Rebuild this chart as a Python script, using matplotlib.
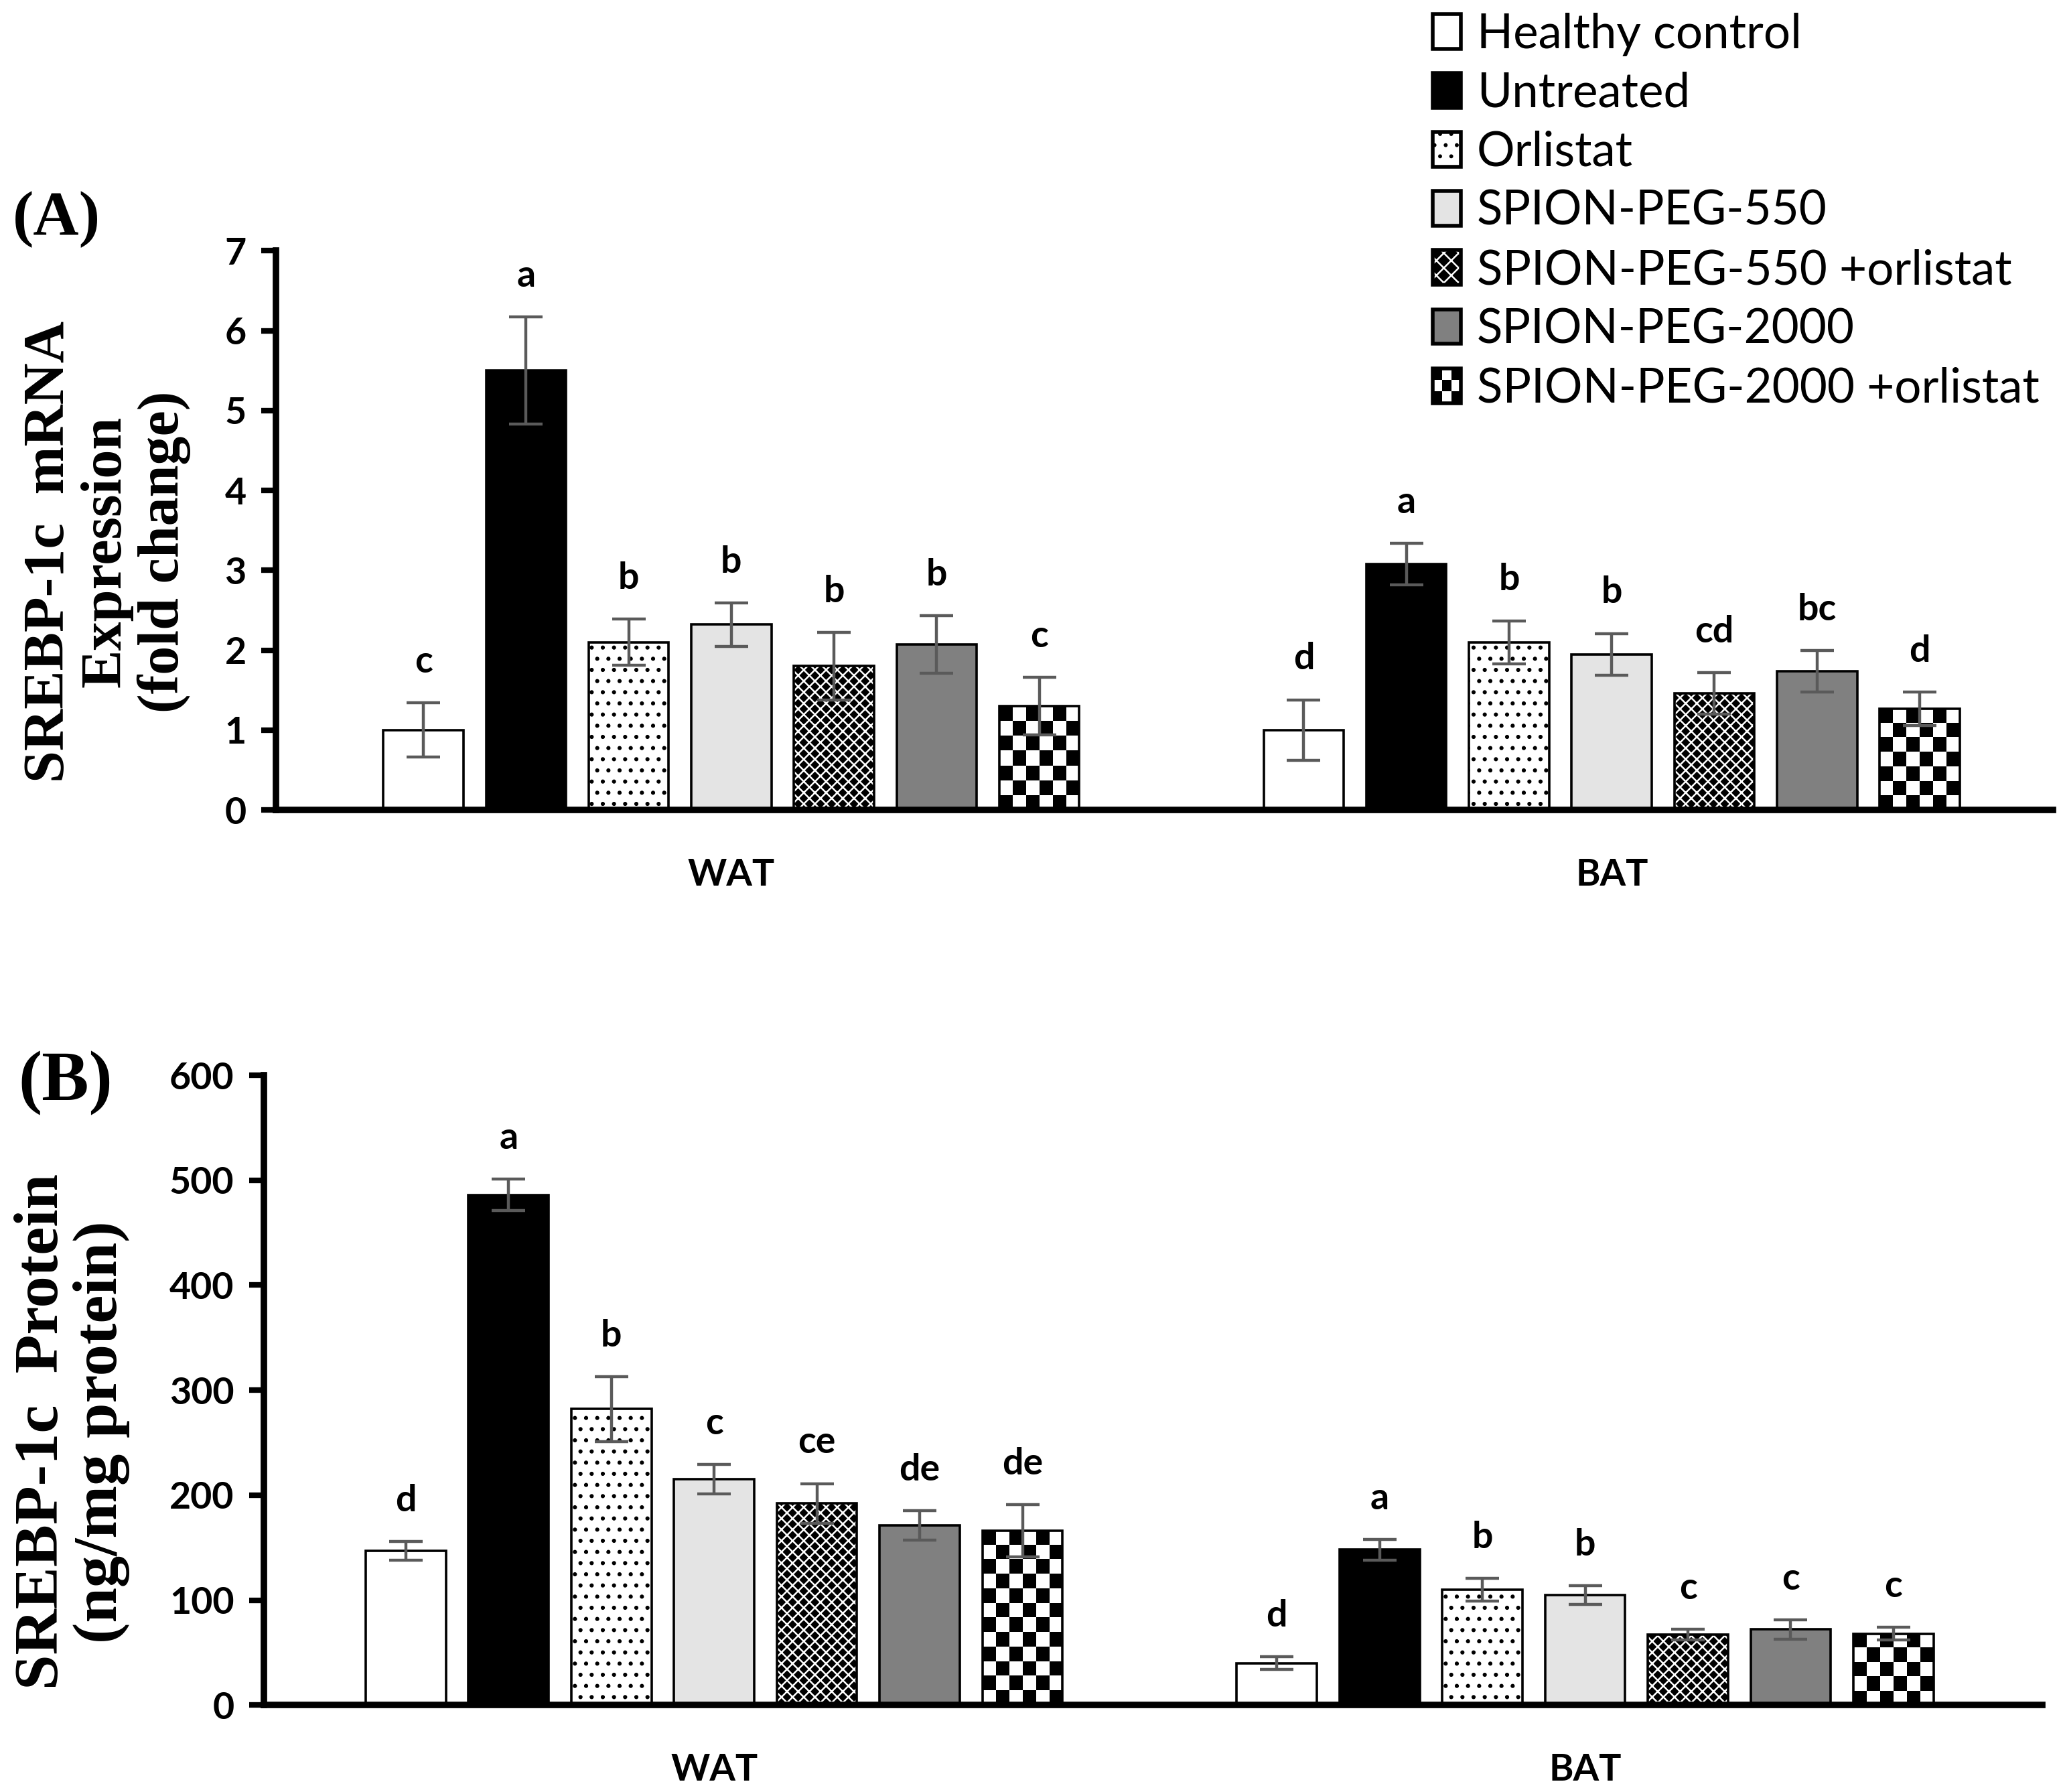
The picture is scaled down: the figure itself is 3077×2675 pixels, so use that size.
import numpy as np
import matplotlib
matplotlib.use("Agg")
import matplotlib.pyplot as plt
from matplotlib.patches import Rectangle, Patch
from matplotlib.legend_handler import HandlerBase

# data
groups = ["WAT", "BAT"]
treatments = ["Healthy control", "Untreated", "Orlistat", "SPION-PEG-550",
              "SPION-PEG-550 +orlistat", "SPION-PEG-2000", "SPION-PEG-2000 +orlistat"]

mrna_wat = [1.00, 5.50, 2.10, 2.32, 1.80, 2.07, 1.30]
mrna_wat_err = [0.34, 0.67, 0.29, 0.27, 0.42, 0.36, 0.36]
mrna_wat_sig = ["c", "a", "b", "b", "b", "b", "c"]
mrna_bat = [1.00, 3.08, 2.10, 1.95, 1.46, 1.74, 1.27]
mrna_bat_err = [0.38, 0.26, 0.27, 0.26, 0.26, 0.26, 0.21]
mrna_bat_sig = ["d", "a", "b", "b", "cd", "bc", "d"]

prot_wat = [147, 486, 282, 215, 192, 171, 166]
prot_wat_err = [9, 15, 31, 14, 19, 14, 25]
prot_wat_sig = ["d", "a", "b", "c", "ce", "de", "de"]
prot_bat = [40, 148, 110, 105, 67, 72, 68]
prot_bat_err = [6, 10, 11, 9, 5, 9, 6]
prot_bat_sig = ["d", "a", "b", "b", "c", "c", "c"]

# styling per treatment
face = ["white", "black", "white", "#e4e4e4", "black", "#808080", "white"]
hatch = [None, None, "..", None, "xxxx", None, "checker"]

W, H, DPI = 3077, 2675, 200
fig = plt.figure(figsize=(W / DPI, H / DPI), dpi=DPI)

sans = ["Lato", "DejaVu Sans"]
serif = ["Liberation Serif", "DejaVu Serif"]

CELL = 21  # checker square, pixels


def add_checker(ax, bar, z):
    ext = bar.get_window_extent()
    nc = max(1, int(round(ext.width / CELL)))
    nr = max(1, int(round(ext.height / CELL)))
    img = (np.add.outer(np.arange(nr), np.arange(nc)) % 2).astype(float)
    x0 = bar.get_x()
    ax.imshow(img, extent=[x0, x0 + bar.get_width(), 0, bar.get_height()],
              cmap="gray", vmin=0, vmax=1, interpolation="nearest",
              aspect="auto", clip_path=bar, zorder=z)


def panel(rect, xlim, step, bw, wat, wat_err, wat_sig, bat, bat_err, bat_sig,
          ymax, ystep):
    ax = fig.add_axes(rect)
    ax.set_xlim(*xlim)
    ax.set_ylim(0, ymax)
    ax.set_autoscale_on(False)
    vals = [wat, bat]
    errs = [wat_err, bat_err]
    sigs = [wat_sig, bat_sig]
    for g in range(2):
        for i in range(7):
            x = g + (i - 3) * step
            v = vals[g][i]
            e = errs[g][i]
            if hatch[i] == "xxxx":
                plt.rcParams["hatch.linewidth"] = 0.9
                ax.bar(x, v, bw, color="black", edgecolor="white", hatch="xxxx",
                       linewidth=0, zorder=2)
            elif hatch[i] == "..":
                plt.rcParams["hatch.linewidth"] = 1.0
                ax.bar(x, v, bw, color="white", edgecolor="black", hatch="..",
                       linewidth=0, zorder=2)
            elif hatch[i] == "checker":
                b = ax.bar(x, v, bw, color="white", linewidth=0, zorder=2)[0]
                add_checker(ax, b, 2.2)
            else:
                ax.bar(x, v, bw, color=face[i], linewidth=0, zorder=2)
            ax.bar(x, v, bw, fill=False, edgecolor="black", linewidth=1.3, zorder=3)
            ax.errorbar(x, v, yerr=e, fmt="none", ecolor="#5a5a5a",
                        elinewidth=1.6, capsize=9, capthick=1.6, zorder=4)
            ax.annotate(sigs[g][i], (x, v + e), xytext=(0, 13),
                        textcoords="offset points", ha="center", va="bottom",
                        fontsize=20, fontweight="bold", family=sans)
    ax.set_xlim(*xlim)
    ax.set_ylim(0, ymax)
    ax.set_yticks(np.arange(0, ymax + ystep / 2, ystep))
    ax.set_xticks([0, 1])
    ax.set_xticklabels(groups)
    for s in ["top", "right"]:
        ax.spines[s].set_visible(False)
    for s in ["left", "bottom"]:
        ax.spines[s].set_linewidth(3.5)
    ax.tick_params(axis="y", direction="out", length=8, width=3, pad=8)
    ax.tick_params(axis="x", length=0, pad=26)
    for lab in ax.get_xticklabels() + ax.get_yticklabels():
        lab.set_fontsize(20)
        lab.set_fontweight("bold")
        lab.set_family(sans)
    return ax


axA = panel([0.134, 0.548, 0.862, 0.312], (-0.517, 1.501), 0.1166, 0.091,
            mrna_wat, mrna_wat_err, mrna_wat_sig,
            mrna_bat, mrna_bat_err, mrna_bat_sig, 7, 1)
axB = panel([0.128, 0.0485, 0.863, 0.3515], (-0.517, 1.525), 0.118, 0.092,
            prot_wat, prot_wat_err, prot_wat_sig,
            prot_bat, prot_bat_err, prot_bat_sig, 600, 100)

# y labels and panel letters
fig.text(0.052, 0.692, "SREBP-1c  mRNA\nExpression\n(fold change)", rotation=90,
         ha="center", va="center", fontsize=31, fontweight="bold", family=serif,
         linespacing=1.1, multialignment="center")
fig.text(0.035, 0.201, "SREBP-1c  Protein\n(ng/mg protein)", rotation=90,
         ha="center", va="center", fontsize=34, fontweight="bold", family=serif,
         linespacing=1.05, multialignment="center")
fig.text(0.006, 0.869, "(A)", fontsize=34, fontweight="bold", family=serif)
fig.text(0.009, 0.386, "(B)", fontsize=38, fontweight="bold", family=serif)


# legend with drawn swatches
class Swatch(HandlerBase):
    def __init__(self, idx):
        super().__init__()
        self.idx = idx

    def create_artists(self, legend, orig_handle, xdescent, ydescent, width,
                       height, fontsize, trans):
        x0, y0 = -xdescent, -ydescent
        arts = []
        i = self.idx
        if hatch[i] == "checker":
            n = 3
            for r in range(n):
                for c in range(n):
                    col = "black" if (r + c) % 2 == 0 else "white"
                    arts.append(Rectangle((x0 + c * width / n, y0 + r * height / n),
                                          width / n, height / n, facecolor=col,
                                          linewidth=0, transform=trans))
        elif hatch[i] == "xxxx":
            arts.append(Rectangle((x0, y0), width, height, facecolor="black",
                                  edgecolor="white", hatch="xxx", linewidth=0,
                                  transform=trans))
        elif hatch[i] == "..":
            arts.append(Rectangle((x0, y0), width, height, facecolor="white",
                                  edgecolor="black", hatch="..", linewidth=0,
                                  transform=trans))
        else:
            arts.append(Rectangle((x0, y0), width, height, facecolor=face[i],
                                  linewidth=0, transform=trans))
        arts.append(Rectangle((x0, y0), width, height, fill=False,
                              edgecolor="black", linewidth=2.0, transform=trans))
        return arts


handles = [Patch(label=t) for t in treatments]
hmap = {h: Swatch(i) for i, h in enumerate(handles)}
fig.legend(handles, treatments, handler_map=hmap, loc="upper left",
           bbox_to_anchor=(0.695, 0.993), frameon=False,
           prop={"family": sans, "size": 25.5}, handlelength=0.6, handleheight=0.75,
           handletextpad=0.34, labelspacing=0.326, borderpad=0, borderaxespad=0)

fig.savefig("out.png", dpi=DPI)
